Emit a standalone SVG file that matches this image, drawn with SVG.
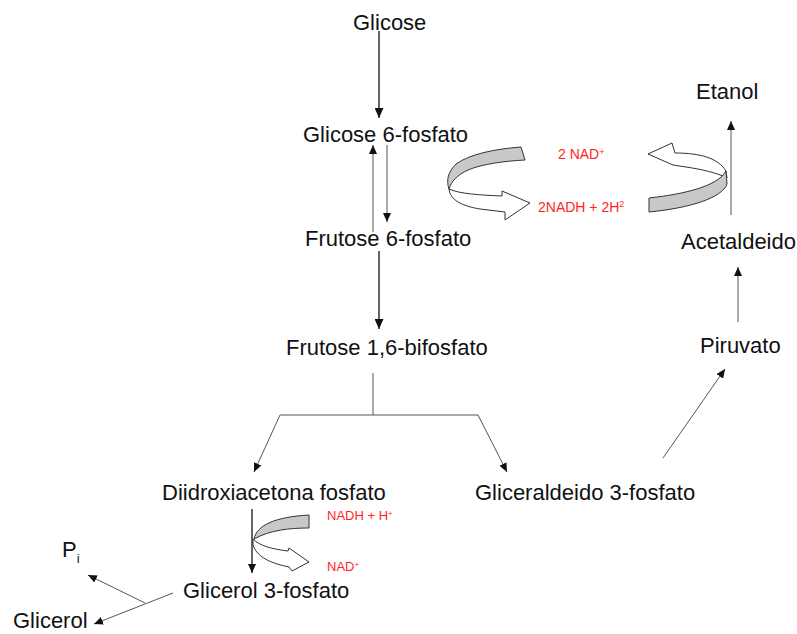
<svg xmlns="http://www.w3.org/2000/svg" width="797" height="634" viewBox="0 0 797 634">
  <style>
    .n { font-family: "Liberation Sans", Arial, sans-serif; font-size: 22px; fill: #111; }
    .r { font-family: "Liberation Sans", Arial, sans-serif; fill: #ff1f1f; }
    .c { fill: none; stroke: #111; stroke-width: 1.3; }
    .t { fill: none; stroke: #555; stroke-width: 1; }
    .g { fill: #c8c8c8; stroke: #333; stroke-width: 1; }
    .w { fill: #fff; stroke: #333; stroke-width: 1; }
  </style>
  <defs>
    <marker id="ah" markerUnits="userSpaceOnUse" markerWidth="10" markerHeight="9" refX="10" refY="4.5" orient="auto">
      <path d="M0,0 L10,4.5 L0,9 Z" fill="#111"/>
    </marker>
    <marker id="as" markerUnits="userSpaceOnUse" markerWidth="9" markerHeight="8" refX="9" refY="4" orient="auto">
      <path d="M0,0 L9,4 L0,8 Z" fill="#111"/>
    </marker>
  </defs>
  <rect width="797" height="634" fill="#fff"/>

  <g id="connectors">
    <path class="c" d="M379,31 L379,118" marker-end="url(#ah)"/>
    <path class="t" d="M373,232 L373,145" marker-end="url(#as)"/>
    <path class="t" d="M387,145 L387,222" marker-end="url(#as)"/>
    <path class="c" d="M379,251 L379,329" marker-end="url(#ah)"/>
    <path class="t" d="M373,373 L373,415"/>
    <path class="t" d="M280,415 L478,415"/>
    <path class="t" d="M280,415 L254,472" marker-end="url(#as)"/>
    <path class="t" d="M478,415 L507,472" marker-end="url(#as)"/>
    <path class="c" d="M252,509 L252,573" marker-end="url(#as)"/>
    <path class="t" d="M173,593 L94,624" marker-end="url(#as)"/>
    <path class="t" d="M145,603 L88,575" marker-end="url(#as)"/>
    <path class="t" d="M663,458 L725,369" marker-end="url(#as)"/>
    <path class="t" d="M738,322 L738,267" marker-end="url(#as)"/>
    <path class="t" d="M731,215 L731,121" marker-end="url(#as)"/>
  </g>

  <g id="cofactor-left">
    <path class="w" d="M449,189 C450,200 462,206 480,209 L505,212 L505,220 L530,203 L502,191 L502,196 C480,195 460,194 449,189 Z"/>
    <path class="g" d="M521,147 L525,160 C505,161 482,164 468,170 C457,175 451,182 449,189 C446,180 448,172 456,164 C470,154 495,149 521,147 Z"/>
  </g>
  <g id="cofactor-right">
    <path class="w" d="M648,154 L672,143 L675,153 C700,153 718,158 726,171 L727,178 C718,173 700,169 686,167 L673,165 Z"/>
    <path class="g" d="M649,198 C685,194 718,186 726,171 L727,184 C722,198 690,208 649,212 Z"/>
  </g>
  <g id="cofactor-bottom">
    <path class="w" d="M253,539 C260,546 272,549 288,551 L289,548 L309,562 L292,571 L289,567 C270,563 257,557 253,545 Z"/>
    <path class="g" d="M309,515 L309,528 C290,528 270,530 254,539 C257,525 275,517 309,515 Z"/>
  </g>

  <g id="glicose"><text class="n" x="353" y="30">Glicose</text></g>
  <g id="glicose6p"><text class="n" x="303" y="142">Glicose 6-fosfato</text></g>
  <g id="frutose6p"><text class="n" x="305" y="246">Frutose 6-fosfato</text></g>
  <g id="frutose16bp"><text class="n" x="286" y="355">Frutose 1,6-bifosfato</text></g>
  <g id="dhap"><text class="n" x="162" y="500">Diidroxiacetona fosfato</text></g>
  <g id="gap"><text class="n" x="475" y="500">Gliceraldeido 3-fosfato</text></g>
  <g id="glicerol3p"><text class="n" x="183" y="598">Glicerol 3-fosfato</text></g>
  <g id="pi"><text class="n" x="62" y="557">P<tspan font-size="13" dy="6">i</tspan></text></g>
  <g id="glicerol"><text class="n" x="13" y="628">Glicerol</text></g>
  <g id="etanol"><text class="n" x="696" y="99">Etanol</text></g>
  <g id="acetaldeido"><text class="n" x="681" y="249">Acetaldeido</text></g>
  <g id="piruvato"><text class="n" x="700" y="353">Piruvato</text></g>

  <g id="labels">
    <text class="r" x="558" y="159" font-size="14">2 NAD<tspan font-size="9" dy="-4">+</tspan></text>
    <text class="r" x="538" y="212" font-size="14">2NADH + 2H<tspan font-size="9" dy="-5">2</tspan></text>
    <text class="r" x="327" y="520" font-size="13">NADH + H<tspan font-size="8" dy="-4">+</tspan></text>
    <text class="r" x="327" y="571" font-size="13">NAD<tspan font-size="8" dy="-4">+</tspan></text>
  </g>
</svg>
